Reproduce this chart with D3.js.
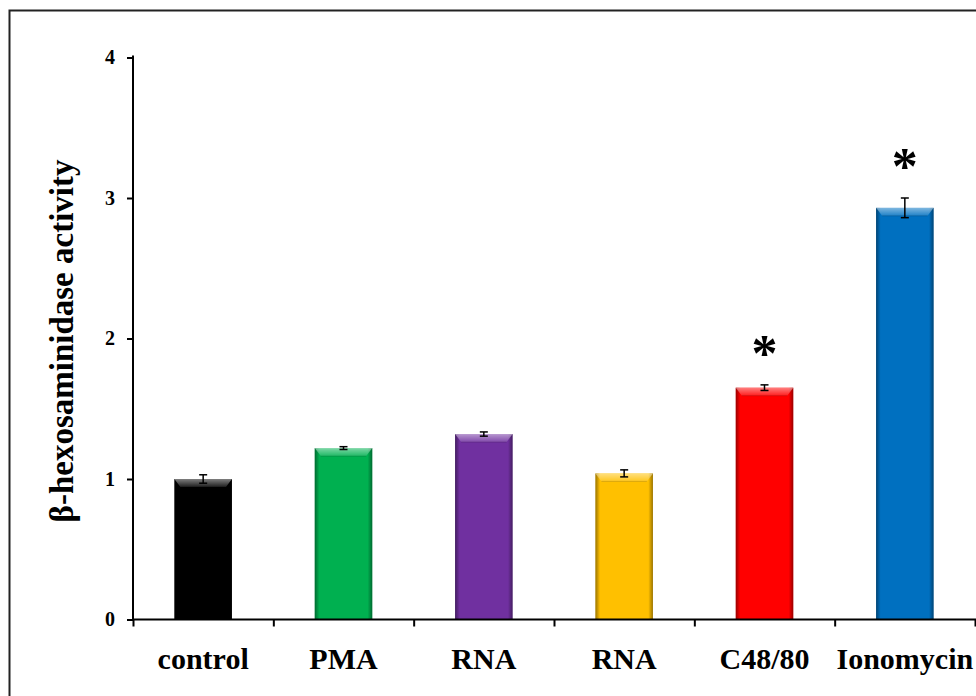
<!DOCTYPE html>
<html>
<head>
<meta charset="utf-8">
<script src="https://cdn.jsdelivr.net/npm/d3@7"></script>
<style>
  html, body { margin: 0; padding: 0; background: #fff; }
  svg { display: block; }
  text { font-family: "Liberation Serif", "Times New Roman", serif; font-weight: bold; fill: #000; }
</style>
</head>
<body>
<script>
// Treatment groups and measured β-hexosaminidase activity (relative to control)
const categories = ["control", "PMA", "RNA", "RNA", "C48/80", "Ionomycin"];
const values     = [1.00, 1.22, 1.32, 1.04, 1.65, 2.93];
const errors     = [0.03, 0.01, 0.015, 0.025, 0.02, 0.07];
const significant = [false, false, false, false, true, true];
const barColors  = ["#000000", "#00B050", "#7030A0", "#FFC000", "#FF0000", "#0070C0"];
const yTicks     = [0, 1, 2, 3, 4];

const W = 976, H = 696;
const svg = d3.select("body").append("svg").attr("width", W).attr("height", H);

// outer frame
svg.append("rect")
  .attr("x", 9.5).attr("y", 10.5).attr("width", 1000).attr("height", 1000)
  .attr("fill", "none").attr("stroke", "#222").attr("stroke-width", 2);

const x0 = 133, x1 = 975, yBase = 619.5, yTop = 57.5;
const idx = d3.range(categories.length);

const x = d3.scaleBand().domain(idx).range([x0, x1]).paddingInner(0.59).paddingOuter(0.295);
const xEdge = d3.scaleLinear().domain([0, categories.length]).range([x0, x1]);
const y = d3.scaleLinear().domain([0, 4]).range([yBase, yTop]);

const defs = svg.append("defs");
const sideGrad = defs.append("linearGradient").attr("id", "sideShade").attr("x1", 0).attr("x2", 1).attr("y1", 0).attr("y2", 0);
[[0, 0.4], [0.08, 0.0], [0.92, 0.0], [1, 0.4]].forEach(([o, a]) =>
  sideGrad.append("stop").attr("offset", o).attr("stop-color", "#000").attr("stop-opacity", a));
const topGrad = defs.append("linearGradient").attr("id", "topShine").attr("x1", 0).attr("x2", 0).attr("y1", 0).attr("y2", 1);
[[0, 0.5], [1, 0.12]].forEach(([o, a]) =>
  topGrad.append("stop").attr("offset", o).attr("stop-color", "#fff").attr("stop-opacity", a));

// bars with a bevelled look
const bars = svg.append("g").selectAll("g").data(idx).join("g");
bars.append("rect")
  .attr("x", i => x(i)).attr("y", i => y(values[i]))
  .attr("width", x.bandwidth()).attr("height", i => yBase - y(values[i]))
  .attr("fill", i => barColors[i]);
bars.append("rect")
  .attr("x", i => x(i)).attr("y", i => y(values[i]))
  .attr("width", x.bandwidth()).attr("height", i => yBase - y(values[i]))
  .attr("fill", "url(#sideShade)");
bars.append("path")
  .attr("d", i => {
    const l = x(i), r = x(i) + x.bandwidth(), t = y(values[i]), b = 8, s = 6;
    return `M${l},${t}L${r},${t}L${r - s},${t + b}L${l + s},${t + b}Z`;
  })
  .attr("fill", "url(#topShine)");
bars.append("path")
  .attr("d", i => {
    const l = x(i), r = x(i) + x.bandwidth(), t = y(values[i]), s = 6, b = 8;
    return `M${l + s},${t + b}L${r - s},${t + b}`;
  })
  .attr("stroke", "#000").attr("stroke-opacity", 0.15).attr("stroke-width", 1);

// error bars
const eb = svg.append("g").attr("stroke", "#000").attr("stroke-width", 1.5);
idx.forEach(i => {
  const cx = x(i) + x.bandwidth() / 2;
  const yh = y(values[i] + errors[i]), yl = y(values[i] - errors[i]);
  eb.append("line").attr("x1", cx).attr("x2", cx).attr("y1", yh).attr("y2", yl);
  eb.append("line").attr("x1", cx - 4).attr("x2", cx + 4).attr("y1", yh).attr("y2", yh);
  eb.append("line").attr("x1", cx - 4).attr("x2", cx + 4).attr("y1", yl).attr("y2", yl);
});

// significance markers
svg.append("g").selectAll("text").data(idx.filter(i => significant[i])).join("text")
  .attr("x", i => x(i) + x.bandwidth() / 2)
  .attr("y", i => y(values[i] + errors[i]) - 14)
  .attr("text-anchor", "middle")
  .style("font-size", "52px")
  .style("font-weight", "bold")
  .text("*");

// y axis
const yAxis = svg.append("g").attr("transform", `translate(${x0},0)`)
  .call(d3.axisLeft(y).tickValues(yTicks).tickFormat(d3.format("d")).tickSize(6).tickPadding(12))
  .attr("font-size", 20).attr("font-family", "Liberation Serif");
yAxis.select(".domain").attr("stroke-width", 2).attr("d", `M0,${yTop - 2}V${yBase}`);
yAxis.selectAll(".tick line").attr("stroke-width", 2);
yAxis.selectAll(".tick text").attr("font-size", 20).style("font-size", "20px").style("font-weight", "bold");

// x axis: ticks at category boundaries
const xAxis = svg.append("g").attr("transform", `translate(0,${yBase})`)
  .call(d3.axisBottom(xEdge).tickValues(d3.range(categories.length + 1)).tickFormat("").tickSize(7));
xAxis.select(".domain").attr("stroke-width", 2).attr("d", `M${x0},0H${x1 + 1}`);
xAxis.selectAll(".tick line").attr("stroke-width", 2);

// category labels
const xLab = svg.append("g").attr("transform", `translate(0,${yBase})`)
  .call(d3.axisBottom(x).tickFormat(i => categories[i]).tickSize(0).tickPadding(28))
  .attr("font-size", 30).attr("font-family", "Liberation Serif");
xLab.select(".domain").remove();
xLab.selectAll(".tick text").style("font-size", "30px").style("font-weight", "bold");

// y axis title
svg.append("text")
  .attr("transform", "translate(73,341) rotate(-90)")
  .attr("text-anchor", "middle")
  .style("font-size", "33px")
  .text("β-hexosaminidase activity");
</script>
</body>
</html>
